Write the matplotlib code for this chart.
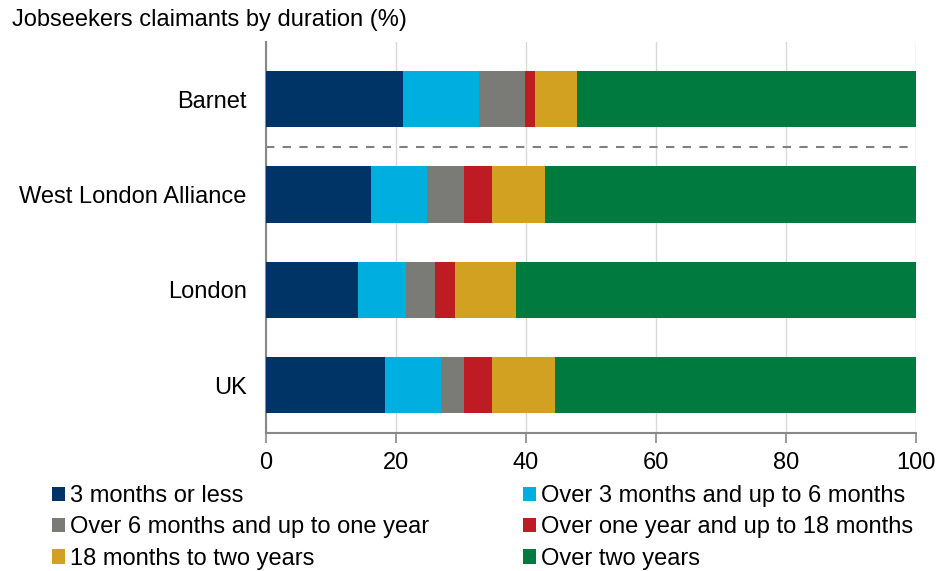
import matplotlib.pyplot as plt
from matplotlib.patches import Patch

plt.rcParams["font.family"] = ["Liberation Sans", "DejaVu Sans"]

areas = ["UK", "London", "West London Alliance", "Barnet"]
durations = [
    "3 months or less",
    "Over 3 months and up to 6 months",
    "Over 6 months and up to one year",
    "Over one year and up to 18 months",
    "18 months to two years",
    "Over two years",
]
# shares per area, same order as areas
up_to_3m = [18.3, 14.1, 16.1, 21.0]
m3_to_6m = [8.6, 7.4, 8.6, 11.7]
m6_to_1y = [3.6, 4.5, 5.8, 7.2]
y1_to_18m = [4.3, 3.1, 4.3, 1.5]
m18_to_2y = [9.6, 9.4, 8.1, 6.5]
over_2y = [55.6, 61.5, 57.1, 52.1]

colors = ["#003366", "#00AEDF", "#7A7B76", "#BE1B24", "#D2A121", "#007A3E"]

fig = plt.figure(figsize=(9.44, 5.71), dpi=100)
ax = fig.add_axes([266 / 944, 1 - 433 / 571, 650 / 944, 391 / 571])

series = [up_to_3m, m3_to_6m, m6_to_1y, y1_to_18m, m18_to_2y, over_2y]
left = [0.0] * len(areas)
ypos = list(range(len(areas)))
handles = []
for vals, col, lab in zip(series, colors, durations):
    ax.barh(ypos, vals, left=left, height=0.59, color=col, zorder=3)
    left = [a + b for a, b in zip(left, vals)]
    handles.append(Patch(facecolor=col, label=lab))

# separator between Barnet and the comparison areas
ax.axhline(2.5, color="#808080", lw=1.5, ls=(0, (4, 4)), zorder=2)

ax.set_xlim(0, 100)
ax.set_ylim(-0.5, 3.6)
ax.set_xticks([0, 20, 40, 60, 80, 100])
ax.set_yticks(ypos)
ax.set_yticklabels(areas)
ax.tick_params(axis="y", length=0, pad=14, labelsize=17)
ax.tick_params(axis="x", length=7, width=1.2, color="#888888", labelsize=17, pad=7)
ax.grid(axis="x", color="#D9D9D9", lw=1, zorder=0)
for s in ["top", "right"]:
    ax.spines[s].set_visible(False)
for s in ["left", "bottom"]:
    ax.spines[s].set_color("#888888")
    ax.spines[s].set_linewidth(1.5)

fig.text(12 / 944, 1 - 20 / 571, "Jobseekers claimants by duration (%)",
         fontsize=17, va="center", ha="left")

order = [0, 2, 4, 1, 3, 5]
fig.legend([handles[i] for i in order], [durations[i] for i in order],
           loc="upper left", bbox_to_anchor=(52 / 944, 1 - 485 / 571),
           ncol=2, frameon=False, fontsize=17, borderpad=0, borderaxespad=0,
           handlelength=0.55, handleheight=0.55, handletextpad=0.22,
           columnspacing=3.95, labelspacing=0.40)

fig.savefig("out.png", dpi=100)
